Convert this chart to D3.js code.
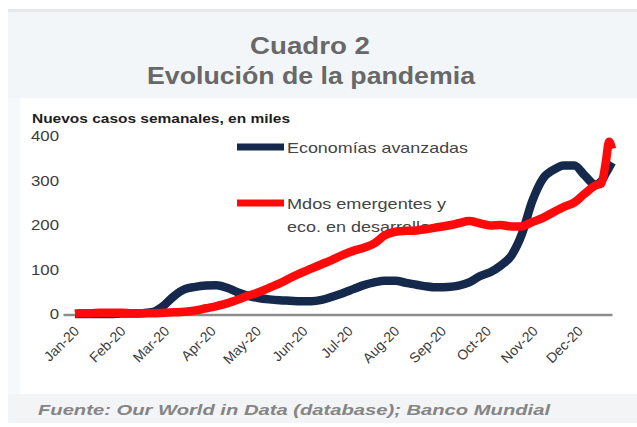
<!DOCTYPE html>
<html>
<head>
<meta charset="utf-8">
<script src="https://cdn.jsdelivr.net/npm/d3@7/dist/d3.min.js"></script>
<style>
  html, body { margin: 0; padding: 0; background: #ffffff; }
  svg { display: block; font-family: "Liberation Sans", Arial, sans-serif; }
</style>
</head>
<body>
<svg id="chart" width="637" height="427"></svg>
<script>
// ---- Data ----
const titleLines = ["Cuadro 2", "Evolución de la pandemia"];
const yAxisTitle = "Nuevos casos semanales, en miles";
const sourceText = "Fuente: Our World in Data (database); Banco Mundial";
const seriesNames = ["Economías avanzadas", "Mdos emergentes y", "eco. en desarrollo"];

const dates = [
  "2020-01-09","2020-01-12","2020-01-19","2020-01-26","2020-02-02","2020-02-09","2020-02-16","2020-02-23",
  "2020-03-01","2020-03-08","2020-03-15","2020-03-22","2020-03-29","2020-04-05","2020-04-12","2020-04-19",
  "2020-04-26","2020-05-03","2020-05-10","2020-05-17","2020-05-24","2020-05-31","2020-06-07","2020-06-14",
  "2020-06-21","2020-06-28","2020-07-05","2020-07-12","2020-07-19","2020-07-26","2020-08-02","2020-08-09",
  "2020-08-16","2020-08-23","2020-08-30","2020-09-06","2020-09-13","2020-09-20","2020-09-27","2020-10-04",
  "2020-10-11","2020-10-18","2020-10-25","2020-11-01","2020-11-08","2020-11-15","2020-11-22","2020-11-29",
  "2020-12-06","2020-12-13","2020-12-20","2020-12-24","2020-12-27","2020-12-29","2020-12-31"
];
const economiasAvanzadas = [
  1,1,1,1,1,2,2,3,
  6,20,42,57,62,65,66,60,
  50,42,37,34,32,31,30,30,
  33,40,48,57,66,72,76,76,
  71,67,63,61,62,65,72,86,
  95,110,132,180,255,305,325,335,
  335,312,292,300,318,330,342
];
const mercadosEmergentes = [
  2,3,3,4,4,4,3,3,
  3,4,5,6,9,14,19,25,
  33,42,50,60,70,82,93,103,
  113,123,134,143,150,160,178,186,
  188,189,192,196,200,205,210,205,
  200,201,198,198,208,217,230,242,
  252,272,290,295,345,388,372
];
const monthTicks = ["2020-01-01","2020-02-01","2020-03-01","2020-04-01","2020-05-01","2020-06-01",
                    "2020-07-01","2020-08-01","2020-09-01","2020-10-01","2020-11-01","2020-12-01"];
const monthLabels = ["Jan-20","Feb-20","Mar-20","Apr-20","May-20","Jun-20",
                     "Jul-20","Aug-20","Sep-20","Oct-20","Nov-20","Dec-20"];
const yTicks = [0, 100, 200, 300, 400];

// ---- Setup ----
const parse = d3.timeParse("%Y-%m-%d");
const svg = d3.select("#chart");
const colNavy = "#14294b";
const colRed = "#ff0a0a";

// background panels
svg.append("rect").attr("x", 8).attr("y", 9).attr("width", 629).attr("height", 89).attr("fill", "#f3f6f9");
svg.append("rect").attr("x", 8).attr("y", 9).attr("width", 629).attr("height", 3).attr("fill", "#e4e8ec");
svg.append("rect").attr("x", 8).attr("y", 98).attr("width", 12).attr("height", 296).attr("fill", "#f6f9fc");
svg.append("rect").attr("x", 8).attr("y", 394).attr("width", 629).attr("height", 29).attr("fill", "#f3f4f6");

// title
svg.append("text").attr("x", 310).attr("y", 54).attr("text-anchor", "middle")
  .attr("font-size", 23).attr("font-weight", "bold").attr("fill", "#686868")
  .attr("textLength", 120).attr("lengthAdjust", "spacingAndGlyphs")
  .text(titleLines[0]);
svg.append("text").attr("x", 311).attr("y", 84).attr("text-anchor", "middle")
  .attr("font-size", 23).attr("font-weight", "bold").attr("fill", "#686868")
  .attr("textLength", 328).attr("lengthAdjust", "spacingAndGlyphs")
  .text(titleLines[1]);

// scales
const x = d3.scaleTime().domain([parse("2020-01-01"), parse("2020-12-31")]).range([63, 612]);
const y = d3.scaleLinear().domain([0, 400]).range([314.5, 136.5]);

// y axis title
svg.append("text").attr("x", 32).attr("y", 123)
  .attr("font-size", 13).attr("font-weight", "bold").attr("fill", "#1e1e1e")
  .attr("textLength", 258).attr("lengthAdjust", "spacingAndGlyphs")
  .text(yAxisTitle);

// y axis
const yAxis = svg.append("g").attr("transform", "translate(62,0)")
  .call(d3.axisLeft(y).tickValues(yTicks).tickSize(0).tickPadding(3));
yAxis.select(".domain").remove();
yAxis.selectAll("text").attr("font-size", 14).attr("fill", "#3c3c3c")
  .attr("font-family", "Liberation Sans, Arial, sans-serif")
  .attr("transform", "scale(1.2,1)").attr("dx", 0)
  .each(function() {
    // compensate for horizontal scale to keep right edge at axis
    const t = d3.select(this);
    t.attr("x", -3 / 1.2);
  });

// x axis
const xAxis = svg.append("g").attr("transform", "translate(0,314.5)")
  .call(d3.axisBottom(x).tickValues(monthTicks.map(parse)).tickSize(0).tickSizeOuter(0)
    .tickFormat((d, i) => monthLabels[i]));
xAxis.select(".domain").attr("stroke", "#8c8c8c").attr("stroke-width", 2.5);
xAxis.selectAll("text")
  .attr("font-size", 14).attr("fill", "#3c3c3c")
  .attr("font-family", "Liberation Sans, Arial, sans-serif")
  .attr("text-anchor", "end")
  .attr("x", 0).attr("y", 0).attr("dy", "0.35em")
  .attr("transform", "translate(13,14) rotate(-45)");

// legend
const legend = svg.append("g");
legend.append("line").attr("x1", 237).attr("x2", 284).attr("y1", 147).attr("y2", 147)
  .attr("stroke", colNavy).attr("stroke-width", 7);
legend.append("text").attr("x", 287).attr("y", 153).attr("font-size", 15).attr("fill", "#444")
  .attr("textLength", 181).attr("lengthAdjust", "spacingAndGlyphs").text(seriesNames[0]);
legend.append("line").attr("x1", 237).attr("x2", 284).attr("y1", 203).attr("y2", 203)
  .attr("stroke", colRed).attr("stroke-width", 7);
legend.append("text").attr("x", 287).attr("y", 209).attr("font-size", 15).attr("fill", "#444")
  .attr("textLength", 159).attr("lengthAdjust", "spacingAndGlyphs").text(seriesNames[1]);
legend.append("text").attr("x", 287).attr("y", 232).attr("font-size", 15).attr("fill", "#444")
  .attr("textLength", 143).attr("lengthAdjust", "spacingAndGlyphs").text(seriesNames[2]);

// series
const line = d3.line().x(d => x(d.date)).y(d => y(d.v)).curve(d3.curveMonotoneX);
const ae = dates.map((d, i) => ({ date: parse(d), v: economiasAvanzadas[i] }));
const em = dates.map((d, i) => ({ date: parse(d), v: mercadosEmergentes[i] }));
svg.append("path").datum(ae).attr("d", line).attr("fill", "none")
  .attr("stroke", colNavy).attr("stroke-width", 8.5).attr("stroke-linejoin", "round");
svg.append("path").datum(em).attr("d", line).attr("fill", "none")
  .attr("stroke", colRed).attr("stroke-width", 8.5).attr("stroke-linejoin", "round");

// source
svg.append("text").attr("x", 38).attr("y", 415)
  .attr("font-size", 15).attr("font-weight", "bold").attr("font-style", "italic").attr("fill", "#858585")
  .attr("textLength", 512).attr("lengthAdjust", "spacingAndGlyphs")
  .text(sourceText);
</script>
</body>
</html>
